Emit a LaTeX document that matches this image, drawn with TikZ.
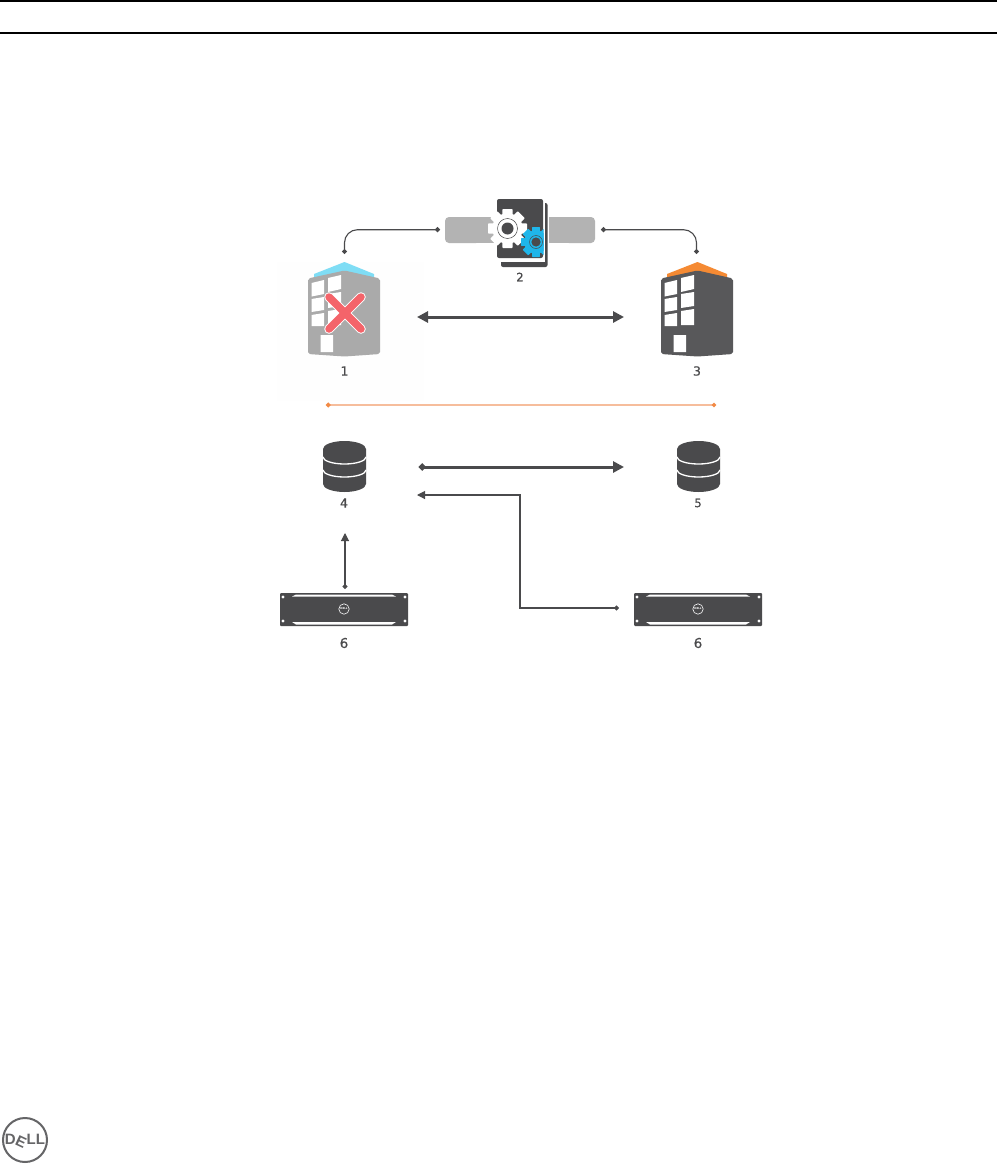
\documentclass[tikz,border=0pt]{standalone}
\usepackage{fontspec}
\setmainfont{DejaVu Sans}
\newfontfamily\numfont[FakeBold=0.5]{DejaVu Sans}
\newfontfamily\markfont[BoldFont={Liberation Sans Bold}]{Liberation Sans}
\usetikzlibrary{arrows.meta,calc}
\definecolor{ink}{HTML}{4A4A4C}
\definecolor{faded}{HTML}{AAAAAA}
\definecolor{pill}{HTML}{B3B3B3}
\definecolor{sky}{HTML}{7FDDF5}
\definecolor{tang}{HTML}{F58A33}
\definecolor{cross}{HTML}{F4646A}
\definecolor{gearblue}{HTML}{1FB6EA}
\definecolor{peach}{HTML}{F6BD9C}
\definecolor{orangedot}{HTML}{F28A45}
\tikzset{
  x=1pt,y=-1pt,
  numlabel/.style={font=\numfont\fontsize{12.5}{12.5}\selectfont,text=ink,inner sep=0pt},
  smallnum/.style={numlabel,font=\numfont\fontsize{11.5}{11.5}\selectfont},
  bignum/.style={numlabel,font=\numfont\fontsize{13.5}{13.5}\selectfont},
  wire/.style={draw=ink,line width=1.1pt},
  thick wire/.style={draw=ink,line width=3pt},
}
% building: #1 x shift, #2 body colour, #3 roof colour
\newcommand{\tower}[3]{%
 \begin{scope}[xshift=#1pt]
  \fill[#3] (314,274) -- (344.5,262) -- (374,274) -- (374,279) -- (344.5,272) -- (314,279) -- cycle;
  \fill[#2,rounded corners=2pt] (308,278.5) -- (344.5,270.5) -- (380,278.5) -- (380,354) -- (344.5,356.5) -- (308,354) -- cycle;
  \fill[white] (311.5,283) -- (324,280) -- (324,294) -- (311.5,296.5) -- cycle
               (328,278) -- (341,275) -- (341,289) -- (328,292) -- cycle
               (311.5,299) -- (324,297) -- (324,310) -- (311.5,312) -- cycle
               (328,294) -- (341,292) -- (341,306) -- (328,308) -- cycle
               (311.5,315) -- (324,313) -- (324,326) -- (311.5,326) -- cycle
               (328,311) -- (341,309) -- (341,325) -- (328,325) -- cycle
               (320.5,335) -- (333,335) -- (333,352) -- (320.5,352) -- cycle;
 \end{scope}}
% database, #1 = x shift
\newcommand{\dbstack}[1]{%
 \begin{scope}[xshift=#1pt]
  \fill[ink] (323,449) arc[start angle=180,end angle=360,x radius=21.5,y radius=8] -- (366,484) arc[start angle=0,end angle=180,x radius=21.5,y radius=8] -- cycle;
  \draw[white,line width=1.3pt] (323,457) arc[start angle=180,end angle=0,x radius=21.5,y radius=7];
  \draw[white,line width=1.3pt] (323,470) arc[start angle=180,end angle=0,x radius=21.5,y radius=7];
 \end{scope}}
% server front panel, #1 = x shift
\newcommand{\rackunit}[1]{%
 \begin{scope}[xshift=#1pt]
  \fill[ink,rounded corners=1pt] (280,593) rectangle (408,626);
  \fill[white] (296,594.5) -- (392,594.5) -- (396,596.5) -- (292,596.5) -- cycle
        (296,624.5) -- (392,624.5) -- (396,622) -- (292,622) -- cycle;
  \foreach \px/\py in {283/597,283/621,405/597,405/621}{\fill[white] (\px,\py) circle (1.6);}
  \draw[white,line width=.6pt] (344,609) circle (5.2);
  \node[inner sep=0pt,text=white,font=\fontsize{2.6}{3}\selectfont\bfseries] at (344,609) {DELL};
 \end{scope}}
% gear: centre x, centre y, outer radius, colour
\newcommand{\cogwheel}[4]{%
  \foreach \a in {0,45,...,315}{\fill[#4,rotate around={\a:(#1,#2)},rounded corners=.6pt] ($(#1,#2)+(-#3*0.26,-#3)$) rectangle ($(#1,#2)+(#3*0.26,0)$);}
  \fill[#4] (#1,#2) circle ({#3*0.78});
}
\begin{document}
\begin{tikzpicture}
\useasboundingbox (0,0) rectangle (997,1167);
\fill[white] (0,0) rectangle (997,1167);
% page rules
\draw[black,line width=1.5pt] (0,1) coordinate (ra) -- (997,1) coordinate (rb);
\draw[black,line width=1.5pt] (0,33) coordinate (rc) -- (997,33) coordinate (rd);
% faint panel behind failed site
\fill[black!0.5] (277,262) rectangle (424,401);
% pills
\fill[pill,rounded corners=4pt] (445,217) rectangle (480,243);
\fill[pill] (470,217) rectangle (495,243);
\fill[pill,rounded corners=4pt] (565,217) rectangle (595,243);
\fill[pill] (549,217) rectangle (580,243);
% document stack
\fill[ink,rounded corners=2pt] (501,203) rectangle (547.5,267);
\fill[white] (497,199) rectangle (544.5,262);
\fill[ink,rounded corners=2pt] (497,199) rectangle (543,258);
% gears
\cogwheel{507.5}{228.5}{19.5}{white}
\draw[ink,line width=.5pt] (507.5,228.5) circle (10);
\fill[ink] (507.5,228.5) circle (6);
\begin{scope}
\clip (515,222) rectangle (543.5,260);
\cogwheel{536}{242}{15}{gearblue}
\draw[ink,line width=.5pt] (536,242) circle (6.5);
\fill[ink] (536,242) circle (4.6);
\end{scope}
% sites
\tower{0}{faded}{sky}
\tower{353}{ink!92}{tang}
% red cross
\draw[white,line width=9.5pt,line cap=round] (329,297) -- (361,329) (361,297) -- (329,329);
\draw[cross,line width=7.5pt,line cap=round] (329,297) -- (361,329) (361,297) -- (329,329);
% databases and servers
\dbstack{0}
\dbstack{354}
\rackunit{0}
\rackunit{354}
% connector ends
\coordinate (pl) at (440,229.7);
\coordinate (pr) at (601,229.7);
\coordinate (sa) at (344.5,254);
\coordinate (sb) at (696.5,254);
\coordinate (ma) at (417,317);
\coordinate (mb) at (624,317);
\coordinate (oa) at (326,405);
\coordinate (ob) at (716,405);
\coordinate (da) at (419,467);
\coordinate (db) at (624,467);
\coordinate (sl) at (345,589);
\coordinate (dl) at (345,533);
\coordinate (sr) at (619,608);
\coordinate (dr) at (417,495);
\coordinate (elbow) at (520,495);
% connectors
\draw[wire,rounded corners=13pt,{Circle[length=5pt,width=5pt]}-{Circle[length=5pt,width=5pt]}] (pl) -| (sa);
\draw[wire,rounded corners=13pt,{Circle[length=5pt,width=5pt]}-{Circle[length=5pt,width=5pt]}] (pr) -| (sb);
\draw[thick wire,{Triangle[length=11pt,width=11pt]}-{Triangle[length=11pt,width=11pt]}] (ma) -- (mb);
\draw[draw=peach,line width=1.3pt,{Circle[length=4.5pt,width=4.5pt,color=orangedot]}-{Circle[length=4pt,width=4pt,color=orangedot]}] (oa) -- (ob);
\draw[thick wire,{Circle[length=6.5pt,width=6.5pt]}-{Triangle[length=11pt,width=11pt]}] (da) -- (db);
\draw[wire,{Circle[length=5pt,width=5pt]}-{Triangle[length=8pt,width=8pt]}] (sl) -- (dl);
\draw[wire,{Circle[length=5pt,width=5pt]}-{Triangle[length=8pt,width=8pt]}] (sr) -| (elbow) -- (dr);
% labels
\node[numlabel] (n1) at (344.5,371) {1};
\node[smallnum] (n2) at (520,277) {2};
\node[numlabel] (n3) at (697,371) {3};
\node[numlabel] (n4) at (344,503) {4};
\node[smallnum] (n5) at (698,503) {5};
\node[bignum] (n6) at (344,643) {6};
\node[bignum] (n7) at (698,643) {6};
% vendor mark
\draw[ink!85,line width=2pt] (25,1140) circle (22);
\node[inner sep=0pt,text=ink!85,font=\markfont\bfseries\fontsize{15}{15}\selectfont] (mark) at (25,1141) {D\kern-1.5pt\rotatebox{-25}{E}\kern-1pt LL};
\end{tikzpicture}
\end{document}
